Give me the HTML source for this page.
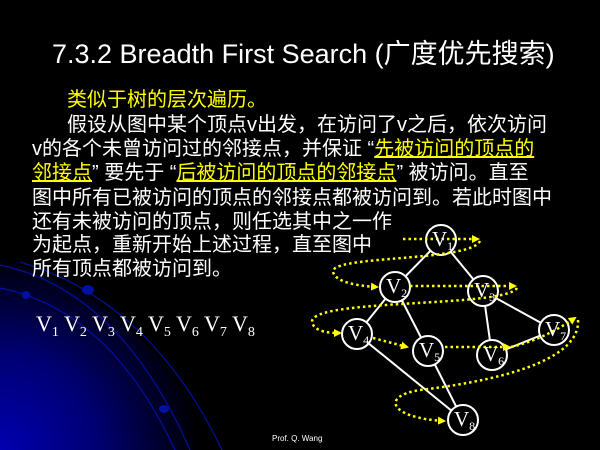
<!DOCTYPE html>
<html><head><meta charset="utf-8"><style>
body{margin:0;width:600px;height:450px;background:#000;overflow:hidden;position:relative;font-family:"Liberation Sans","Noto Sans CJK SC",sans-serif}
.t{position:absolute;color:#fff;font-size:20px;white-space:nowrap;line-height:25px}
.y{color:#ffff00}
u{text-decoration:underline}
</style></head><body>
<svg width="600" height="450" style="position:absolute;left:0;top:0">
<defs>
<radialGradient id="g" cx="0" cy="450" r="200" gradientUnits="userSpaceOnUse">
<stop offset="0" stop-color="#0000b0"/><stop offset="0.5" stop-color="#000070"/><stop offset="1" stop-color="#000"/>
</radialGradient>
<marker id="a" markerWidth="8" markerHeight="8" refX="6" refY="4" orient="auto" markerUnits="userSpaceOnUse"><path d="M0,0 L8,4 L0,8z" fill="#ff0"/></marker>
</defs>
<path d="M0,260 Q150,300 215,450 L0,450z" fill="url(#g)"/>
<path d="M0,265 Q120,290 190,450" stroke="#0010a0" stroke-width="1.2" fill="none"/>
<path d="M0,288 Q110,310 175,450" stroke="#0010a0" stroke-width="1.2" fill="none"/>
<path d="M20,262 Q150,300 222,450" stroke="#0010a0" stroke-width="1.2" fill="none"/>
<ellipse cx="26" cy="295" rx="4" ry="4" fill="#0010a0"/>
<ellipse cx="88" cy="290" rx="6" ry="5" fill="#0010a0"/>
<ellipse cx="164" cy="409" rx="5" ry="4" fill="#0010a0"/>
<g stroke="#fff" stroke-width="2">
<line x1="441" y1="240" x2="395" y2="287"/><line x1="441" y1="240" x2="483" y2="291"/>
<line x1="395" y1="287" x2="357" y2="334"/><line x1="395" y1="287" x2="428" y2="351"/>
<line x1="483" y1="291" x2="492" y2="355"/><line x1="483" y1="291" x2="554" y2="330"/>
<line x1="492" y1="355" x2="554" y2="330"/><line x1="357" y1="334" x2="463" y2="420"/>
<line x1="428" y1="351" x2="463" y2="420"/>
</g>
<g fill="#000" stroke="#fff" stroke-width="2">
<circle cx="441" cy="240" r="15"/><circle cx="395" cy="287" r="15"/><circle cx="483" cy="291" r="15"/>
<circle cx="357" cy="334" r="15"/><circle cx="428" cy="351" r="15"/><circle cx="492" cy="355" r="15"/>
<circle cx="554" cy="330" r="15"/><circle cx="463" cy="420" r="15"/>
</g>
<g stroke="#ff0" stroke-width="2.5" stroke-dasharray="2.5,3" fill="none" marker-end="url(#a)">
<path d="M403,239 L478,239"/>
<path d="M480,241 C470,262 330,255 333,272 C336,283 360,286 377,287"/>
<path d="M410,286 L515,286"/>
<path d="M517,288 C505,308 310,298 312,322 C314,332 330,333 340,333"/>
<path d="M373,338 L407,347"/>
<path d="M445,347 L509,347"/>
<path d="M511,347 C540,340 560,328 575,318"/>
<path d="M578,320 C580,355 520,378 420,390 C380,396 390,418 444,421"/>
</g>
<g fill="#fff" font-family="Liberation Serif,serif" font-size="21">
<text x="432" y="246">V<tspan font-size="12" dy="4">1</tspan></text>
<text x="386" y="293">V<tspan font-size="12" dy="4">2</tspan></text>
<text x="474" y="297">V<tspan font-size="12" dy="4">3</tspan></text>
<text x="348" y="340">V<tspan font-size="12" dy="4">4</tspan></text>
<text x="419" y="357">V<tspan font-size="12" dy="4">5</tspan></text>
<text x="483" y="361">V<tspan font-size="12" dy="4">6</tspan></text>
<text x="545" y="336">V<tspan font-size="12" dy="4">7</tspan></text>
<text x="454" y="426">V<tspan font-size="12" dy="4">8</tspan></text>
<text x="36" y="331" font-size="22">V<tspan font-size="14" dy="5">1</tspan><tspan dy="-5"> V</tspan><tspan font-size="14" dy="5">2</tspan><tspan dy="-5"> V</tspan><tspan font-size="14" dy="5">3</tspan><tspan dy="-5"> V</tspan><tspan font-size="14" dy="5">4</tspan><tspan dy="-5"> V</tspan><tspan font-size="14" dy="5">5</tspan><tspan dy="-5"> V</tspan><tspan font-size="14" dy="5">6</tspan><tspan dy="-5"> V</tspan><tspan font-size="14" dy="5">7</tspan><tspan dy="-5"> V</tspan><tspan font-size="14" dy="5">8</tspan></text>
</g>
<text x="272" y="441" fill="#fff" font-size="8" font-family="Liberation Sans,sans-serif">Prof. Q. Wang</text>
</svg>
<div class="t" style="left:52px;top:38px;font-size:27px;line-height:32px">7.3.2 Breadth First Search (广度优先搜索)</div>
<div class="t y" style="left:67px;top:88px">类似于树的层次遍历。</div>
<div class="t" style="left:67px;top:113px">假设从图中某个顶点v出发，在访问了v之后，依次访问</div>
<div class="t" style="left:32px;top:137px">v的各个未曾访问过的邻接点，并保证 “<u class="y">先被访问的顶点的</u></div>
<div class="t" style="left:32px;top:161px"><u class="y">邻接点</u>” 要先于 “<u class="y">后被访问的顶点的邻接点</u>” 被访问。直至</div>
<div class="t" style="left:32px;top:186px">图中所有已被访问的顶点的邻接点都被访问到。若此时图中</div>
<div class="t" style="left:32px;top:210px">还有未被访问的顶点，则任选其中之一作</div>
<div class="t" style="left:32px;top:233px">为起点，重新开始上述过程，直至图中</div>
<div class="t" style="left:32px;top:257px">所有顶点都被访问到。</div>
</body></html>
